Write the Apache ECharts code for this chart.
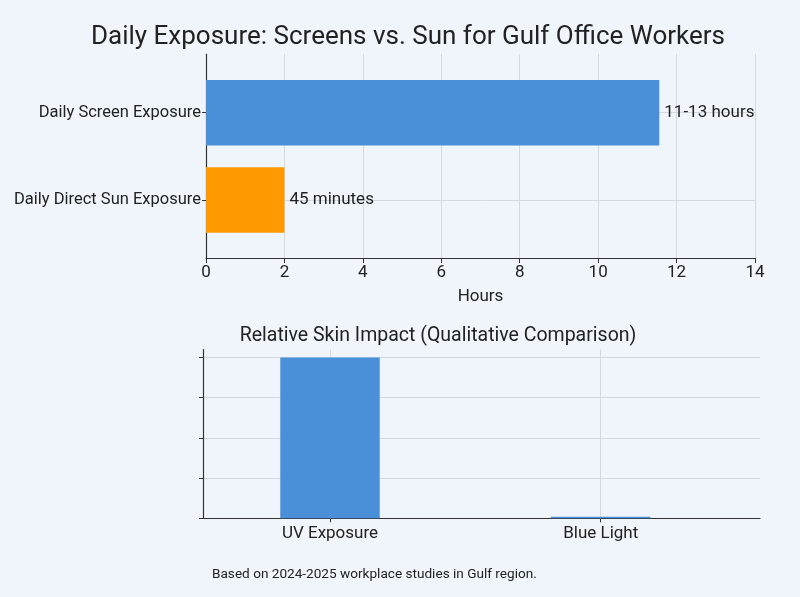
<!DOCTYPE html>
<html><head><meta charset="utf-8">
<script src="https://cdn.jsdelivr.net/npm/echarts@6/dist/echarts.min.js"></script>
<style>html,body{margin:0;padding:0;background:#eff5fa}#c{width:800px;height:597px}</style>
</head><body><div id="c"></div>
<script>
// ---- data ----
const exposureCategories = ['Daily Direct Sun Exposure', 'Daily Screen Exposure'];
const exposureHours = [2.0, 11.56];
const exposureLabels = ['45 minutes', '11-13 hours'];
const exposureColors = ['#ff9900', '#4a90d9'];
const hourMin = 0, hourMax = 14, hourStep = 2;

const impactCategories = ['UV Exposure', 'Blue Light'];
const impactValues = [100, 1];
const impactTicks = [0, 25, 50, 75, 100];
const impactMax = 105;

const mainTitle = 'Daily Exposure: Screens vs. Sun for Gulf Office Workers';
const subTitle = 'Relative Skin Impact (Qualitative Comparison)';
const footnote = 'Based on 2024-2025 workplace studies in Gulf region.';
const xName = 'Hours';

// ---- chart ----
const FONT = 'Roboto';
const TXT = '#222222';
const AX = '#333333';
const GRID = '#d3d9de';

const chart = echarts.init(document.getElementById('c'), null, {renderer: 'canvas'});
chart.setOption({
  backgroundColor: '#eff5fa',
  animation: false,
  textStyle: {fontFamily: FONT},
  graphic: [
    {type: 'text', x: 408, y: 37, style: {text: mainTitle, font: '26px Roboto', fill: TXT, textAlign: 'center', textVerticalAlign: 'middle'}},
    {type: 'text', x: 438, y: 336, style: {text: subTitle, font: '19.5px Roboto', fill: TXT, textAlign: 'center', textVerticalAlign: 'middle'}},
    {type: 'text', x: 212, y: 575, style: {text: footnote, font: '13.6px Roboto', fill: TXT, textAlign: 'left', textVerticalAlign: 'middle'}}
  ],
  grid: [
    {left: 206, width: 549, top: 54, height: 204},
    {left: 206, width: 549, top: 69, height: 174.6},
    {left: 203, width: 557, top: 349.5, height: 168.8},
    {left: 194.65, width: 541.4, top: 349.5, height: 168.8}
  ],
  xAxis: [
    {gridIndex: 0, type: 'value', min: hourMin, max: hourMax, interval: hourStep,
     axisLine: {show: true, lineStyle: {color: AX, width: 1.2}},
     axisTick: {show: true, length: 5, lineStyle: {color: AX}},
     axisLabel: {fontSize: 17, color: TXT, margin: 6, fontFamily: FONT},
     splitLine: {show: true, lineStyle: {color: GRID, width: 1}},
     name: xName, nameLocation: 'middle', nameGap: 30,
     nameTextStyle: {fontSize: 17, color: TXT, fontFamily: FONT}},
    {gridIndex: 1, type: 'value', min: hourMin, max: hourMax, show: false},
    {gridIndex: 2, type: 'value', min: 0, max: 1,
     axisLine: {show: true, onZero: false, lineStyle: {color: AX, width: 1.2}},
     axisTick: {show: false}, axisLabel: {show: false}, splitLine: {show: false}},
    {gridIndex: 3, type: 'category', data: impactCategories,
     axisLine: {show: false},
     axisTick: {show: true, alignWithLabel: true, length: 4, lineStyle: {color: AX}},
     axisLabel: {fontSize: 17, color: TXT, margin: 7, fontFamily: FONT},
     splitLine: {show: false}}
  ],
  yAxis: [
    {gridIndex: 0, type: 'value', min: 0, max: 1,
     axisLine: {show: true, onZero: false, lineStyle: {color: AX, width: 1.2}},
     axisTick: {show: false}, axisLabel: {show: false}, splitLine: {show: false}},
    {gridIndex: 1, type: 'category', data: exposureCategories,
     axisLine: {show: false},
     axisTick: {show: true, alignWithLabel: true, length: 4, lineStyle: {color: AX}},
     axisLabel: {fontSize: 16.5, color: TXT, margin: 5, fontFamily: FONT, padding: [3, 0, 0, 0]},
     splitLine: {show: false}},
    {gridIndex: 2, type: 'value', min: 0, max: impactMax, interval: 25,
     axisLine: {show: true, onZero: false, lineStyle: {color: AX, width: 1.2}},
     axisTick: {show: true, length: 4, customValues: impactTicks, lineStyle: {color: AX}},
     axisLabel: {show: false},
     splitLine: {show: true, lineStyle: {color: GRID, width: 1}}},
    {gridIndex: 3, type: 'value', min: 0, max: impactMax, show: false}
  ],
  series: [
    {type: 'bar', xAxisIndex: 1, yAxisIndex: 1, barWidth: 65.5, z: 3,
     data: exposureHours.map((v, i) => ({value: v, itemStyle: {color: exposureColors[i]}})),
     label: {show: true, position: 'right', distance: 5, fontSize: 17, color: TXT, fontFamily: FONT,
       padding: [3, 0, 0, 0], formatter: p => exposureLabels[p.dataIndex]},
     markLine: {silent: true, symbol: 'none', z: 1, label: {show: false},
       lineStyle: {color: GRID, width: 1, type: 'solid'},
       data: exposureCategories.map((c, i) => ({yAxis: i}))}},
    {type: 'bar', xAxisIndex: 3, yAxisIndex: 3, barWidth: 99.5, z: 3,
     itemStyle: {color: '#4a90d9'},
     data: impactValues,
     markLine: {silent: true, symbol: 'none', z: 1, label: {show: false},
       lineStyle: {color: GRID, width: 1, type: 'solid'},
       data: impactCategories.map((c, i) => ({xAxis: i}))}}
  ]
});
</script>
</body></html>
